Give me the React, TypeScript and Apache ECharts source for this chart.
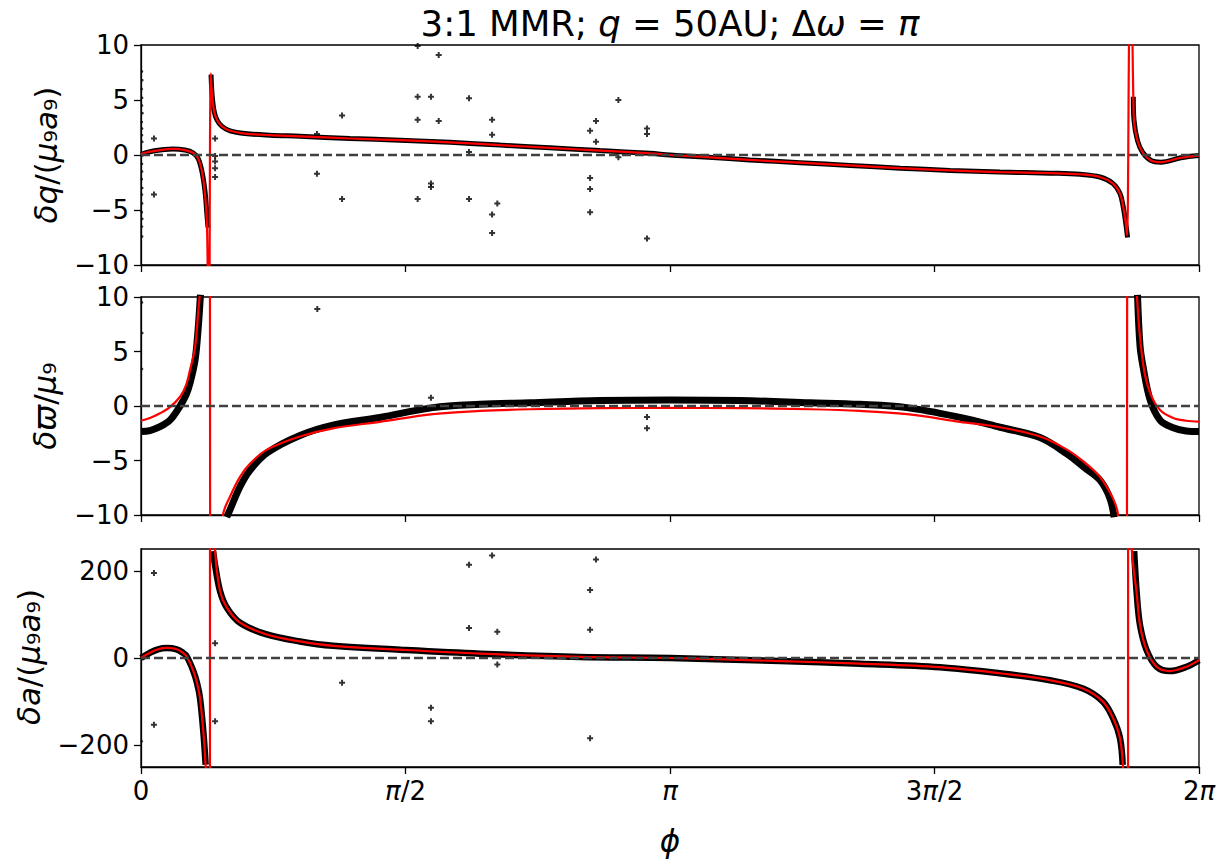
import React, { useEffect, useRef } from "react";
import * as echarts from "echarts";

const PI = Math.PI;
const FONT = "DejaVu Sans";

// x ticks (radians) and their labels
const X_TICKS = [0, PI / 2, PI, (3 * PI) / 2, 2 * PI];
const X_TICK_LABELS = ["0", "{i|π}/2", "{i|π}", "3{i|π}/2", "2{i|π}"];
const Y_TICKS_Q = [-10, -5, 0, 5, 10];
const Y_TICKS_A = [-200, 0, 200];

// ---------- panel 1 : δq/(μ9 a9) ----------
const P1_RED_PHI = [0.000, 0.053, 0.113, 0.190, 0.261, 0.309, 0.339, 0.362, 0.380, 0.392, 0.398, 0.403, 0.414, 0.422, 0.434, 0.451, 0.481, 0.529, 0.618, 0.766, 0.944, 1.241, 1.538, 1.835, 2.132, 2.429, 2.726, 3.023, 3.142, 3.320, 3.617, 3.914, 4.211, 4.508, 4.805, 5.101, 5.398, 5.577, 5.695, 5.773, 5.814, 5.833, 5.848, 5.856, 5.870, 5.879, 5.888, 5.894, 5.899, 5.918, 5.948, 5.998, 6.057, 6.176, 6.283];
const P1_RED = [0.1, 0.3, 0.45, 0.55, 0.45, 0.2, -0.3, -1.5, -3.5, -6.5, -14, -25, 7.4, 5.5, 4.0, 3.2, 2.6, 2.2, 1.95, 1.8, 1.7, 1.5, 1.35, 1.15, 0.9, 0.65, 0.4, 0.15, 0.0, -0.15, -0.45, -0.7, -0.95, -1.2, -1.4, -1.55, -1.65, -1.75, -2.0, -2.6, -3.5, -4.7, -6.2, -7.3, 14, 18, 10.5, 4.3, 2.8, 1.3, 0.25, -0.5, -0.65, -0.25, -0.05];
const P1_BLK_PHI = [0.000, 0.053, 0.113, 0.190, 0.261, 0.309, 0.339, 0.362, 0.380, 0.392, 0.398, 0.405, 0.416, 0.422, 0.434, 0.451, 0.481, 0.529, 0.618, 0.766, 0.944, 1.241, 1.538, 1.835, 2.132, 2.429, 2.726, 3.023, 3.142, 3.320, 3.617, 3.914, 4.211, 4.508, 4.805, 5.101, 5.398, 5.577, 5.695, 5.773, 5.814, 5.833, 5.848, 5.859, 5.875, 5.893, 5.897, 5.918, 5.948, 5.998, 6.057, 6.176, 6.283];
const P1_BLK = [0.05, 0.3, 0.45, 0.55, 0.45, 0.2, -0.3, -1.5, -3.3, -5.5, -6.6, null, 7.3, 5.5, 4.0, 3.2, 2.6, 2.2, 1.95, 1.8, 1.7, 1.5, 1.35, 1.15, 0.9, 0.65, 0.4, 0.15, 0.0, -0.15, -0.45, -0.7, -0.95, -1.2, -1.4, -1.55, -1.65, -1.75, -2.0, -2.6, -3.5, -4.7, -6.2, -7.5, null, 5.3, 3.2, 1.3, 0.25, -0.5, -0.65, -0.25, -0.05];
const P1_OUT_PHI = [0.077, 0.077, 0.440, 0.440, 0.440, 0.440, 0.440, 1.045, 1.045, 1.194, 1.194, 1.643, 1.643, 1.643, 1.643, 1.722, 1.722, 1.722, 1.768, 1.768, 1.948, 1.948, 1.948, 2.085, 2.085, 2.085, 2.085, 2.116, 2.667, 2.667, 2.667, 2.667, 2.702, 2.702, 2.835, 2.835, 3.005, 3.005, 3.005];
const P1_OUT = [1.5, -3.6, 1.5, -0.1, -0.6, -1.2, -2.0, 1.9, -1.7, 3.6, -4.0, 9.9, 5.3, 3.2, -4.0, 5.3, -2.6, -2.9, 9.1, 3.1, 5.15, 0.27, -4.0, 3.2, 1.85, -5.4, -7.1, -4.4, 2.2, -2.1, -3.1, -5.2, 3.1, 1.2, 5.0, -0.2, 2.4, 1.9, -7.6];
const P1_EDGE_PHI = [0.006, 0.008, 0.005, 0.007, 0.006, 0.009, 0.005, 0.007, 0.006, 0.008, 0.006, 0.007, 0.005, 0.008, 0.006, 0.007, 0.005, 0.008, 0.006, 0.007];
const P1_EDGE = [7.6, 6.8, 6.0, 5.2, 4.5, 3.8, 3.0, 2.4, 1.8, 1.2, -0.8, -1.5, -2.2, -3.0, -3.6, -4.4, -5.2, -5.8, -6.5, -7.4];

// ---------- panel 2 : δϖ/μ9 ----------
const P2_RED_PHI = [0.000, 0.053, 0.113, 0.172, 0.232, 0.267, 0.291, 0.321, 0.339, 0.350, 0.374, 0.407, 0.413, 0.445, 0.487, 0.529, 0.588, 0.647, 0.748, 0.944, 1.140, 1.419, 1.734, 2.013, 2.310, 2.726, 3.142, 3.557, 3.973, 4.270, 4.549, 4.864, 5.101, 5.339, 5.499, 5.606, 5.695, 5.773, 5.802, 5.832, 5.853, 5.859, 5.892, 5.915, 5.951, 5.993, 6.052, 6.130, 6.207, 6.283];
const P2_RED = [-1.35, -1.1, -0.67, -0.1, 0.85, 1.9, 3.3, 5.4, 8.5, 10.5, 20, 60, -60, -20, -10, -8.3, -6.5, -5.3, -4.0, -2.8, -2.05, -1.45, -0.75, -0.45, -0.3, -0.2, -0.18, -0.2, -0.3, -0.45, -0.75, -1.45, -1.95, -2.8, -4.0, -5.2, -6.5, -8.5, -10, -20, -60, 60, 20, 10, 3.9, 1.2, -0.37, -1.1, -1.35, -1.44];
const P2_BLK_PHI = [0.000, 0.053, 0.113, 0.172, 0.232, 0.267, 0.291, 0.321, 0.339, 0.353, 0.400, 0.509, 0.529, 0.588, 0.647, 0.748, 0.944, 1.140, 1.419, 1.734, 2.013, 2.310, 2.726, 3.142, 3.557, 3.973, 4.270, 4.549, 4.864, 5.101, 5.339, 5.499, 5.606, 5.695, 5.755, 5.779, 5.850, 5.918, 5.933, 5.951, 5.993, 6.052, 6.130, 6.207, 6.283];
const P2_BLK = [-2.35, -2.25, -1.9, -1.3, 0.0, 1.0, 2.1, 4.2, 7.0, 10.2, null, -10.2, -9.5, -7.4, -5.9, -4.3, -2.7, -1.75, -1.05, -0.15, 0.15, 0.3, 0.5, 0.55, 0.5, 0.3, 0.15, -0.15, -1.05, -1.95, -2.9, -4.4, -5.7, -6.8, -8.5, -10.2, null, 10.2, 5.5, 3.6, 0.55, -1.3, -2.0, -2.3, -2.35];
const P2_OUT_PHI = [1.047, 1.722, 3.005, 3.005];
const P2_OUT = [8.9, 0.76, -1.0, -2.05];
const P2_EDGE_PHI = [0.006, 0.008, 0.006];
const P2_EDGE = [9.5, 6.7, 3.4];

// ---------- panel 3 : δa/(μ9 a9) ----------
const P3_RED_PHI = [0.000, 0.053, 0.101, 0.153, 0.212, 0.249, 0.271, 0.311, 0.333, 0.350, 0.370, 0.384, 0.395, 0.407, 0.413, 0.428, 0.439, 0.469, 0.509, 0.588, 0.747, 0.944, 1.140, 1.538, 2.013, 2.607, 3.142, 3.795, 4.270, 4.745, 5.101, 5.398, 5.594, 5.713, 5.773, 5.814, 5.832, 5.847, 5.859, 5.865, 5.877, 5.884, 5.914, 5.933, 5.972, 6.032, 6.111, 6.210, 6.283];
const P3_RED = [0, 12, 20, 23, 20, 12, 4, -30, -58, -91, -168, -250, -400, -800, 800, 400, 250, 154, 116, 81, 54, 38, 28, 19, 10, 2.5, 0, -7, -13, -21, -35, -51, -70, -100, -138, -184, -250, -400, -800, 800, 400, 250, 145, 75, 18, -20, -30, -20, -5];
const P3_BLK_PHI = [0.000, 0.053, 0.101, 0.153, 0.212, 0.249, 0.271, 0.311, 0.333, 0.350, 0.370, 0.384, 0.400, 0.428, 0.439, 0.469, 0.509, 0.588, 0.747, 0.944, 1.140, 1.538, 2.013, 2.607, 3.142, 3.795, 4.270, 4.745, 5.101, 5.398, 5.594, 5.713, 5.773, 5.814, 5.830, 5.860, 5.898, 5.914, 5.933, 5.972, 6.032, 6.111, 6.210, 6.283];
const P3_BLK = [0, 12, 20, 23, 20, 12, 4, -30, -58, -91, -168, -245, null, 245, 215, 154, 116, 81, 54, 38, 28, 19, 10, 2.5, 0, -7, -13, -21, -35, -51, -70, -100, -138, -184, -245, null, 245, 145, 75, 18, -20, -30, -20, -5];
const P3_OUT_PHI = [0.077, 0.077, 0.440, 0.440, 1.194, 1.722, 1.722, 1.948, 1.948, 2.085, 2.116, 2.116, 2.667, 2.667, 2.667, 2.702];
const P3_OUT = [195, -153, 34, -145, -57, -114, -145, 214, 69, 235, 60, -15, 156, 65, -184, 226];
const P3_EDGE_PHI = [0.005];
const P3_EDGE = [-191];

const ZERO_PHI = [0, 2 * PI];
const ZERO_Y = [0, 0];

const PLUS = "path://M-1,-3H1V-1H3V1H1V3H-1V1H-3V-1H-1Z";

const pairs = (xs: number[], ys: (number | null)[]) =>
  xs.map((x, i) => [x, ys[i] === null ? "-" : ys[i]]);

const minus = (v: number) => String(v).replace("-", "\u2212");

const GRIDS = [
  { left: 141, width: 1058, top: 45, height: 220 },
  { left: 141, width: 1058, top: 297, height: 218 },
  { left: 141, width: 1058, top: 549, height: 218 },
];

function buildOption() {
  const grid = GRIDS.map((g) => ({
    ...g,
    show: true,
    borderColor: "#000",
    borderWidth: 1.3,
    backgroundColor: "transparent",
  }));

  const xAxis = [0, 1, 2].map((i) => ({
    type: "value",
    gridIndex: i,
    min: 0,
    max: 2 * PI,
    axisLine: { show: true, onZero: false, lineStyle: { color: "#000", width: 1.3 } },
    axisTick: {
      show: true,
      inside: false,
      length: 7,
      customValues: X_TICKS,
      lineStyle: { color: "#000", width: 1.3 },
    },
    axisLabel: {
      show: i === 2,
      customValues: X_TICKS,
      margin: 11,
      color: "#000",
      fontSize: 26,
      fontFamily: FONT,
      formatter: (v: number) => X_TICK_LABELS[Math.round(v / (PI / 2))],
      rich: { i: { fontStyle: "italic", fontSize: 26, fontFamily: FONT, color: "#000" } },
    },
    splitLine: { show: false },
  }));

  const yCommon = (i: number, min: number, max: number, ticks: number[]) => ({
    type: "value",
    gridIndex: i,
    min,
    max,
    axisLine: { show: true, onZero: false, lineStyle: { color: "#000", width: 1.3 } },
    axisTick: {
      show: true,
      inside: false,
      length: 7,
      customValues: ticks,
      lineStyle: { color: "#000", width: 1.3 },
    },
    axisLabel: {
      show: true,
      customValues: ticks,
      margin: 12,
      color: "#000",
      fontSize: 26,
      fontFamily: FONT,
      formatter: (v: number) => minus(v),
    },
    splitLine: { show: false },
  });

  const yAxis = [
    yCommon(0, -10, 10, Y_TICKS_Q),
    yCommon(1, -10, 10, Y_TICKS_Q),
    yCommon(2, -250, 250, Y_TICKS_A),
  ];

  const panels = [
    { blk: pairs(P1_BLK_PHI, P1_BLK), red: pairs(P1_RED_PHI, P1_RED), out: pairs(P1_OUT_PHI, P1_OUT), edge: pairs(P1_EDGE_PHI, P1_EDGE), bw: 5 },
    { blk: pairs(P2_BLK_PHI, P2_BLK), red: pairs(P2_RED_PHI, P2_RED), out: pairs(P2_OUT_PHI, P2_OUT), edge: pairs(P2_EDGE_PHI, P2_EDGE), bw: 7 },
    { blk: pairs(P3_BLK_PHI, P3_BLK), red: pairs(P3_RED_PHI, P3_RED), out: pairs(P3_OUT_PHI, P3_OUT), edge: pairs(P3_EDGE_PHI, P3_EDGE), bw: 6.5 },
  ];

  const series: any[] = [];
  panels.forEach((p, i) => {
    series.push({
      type: "line",
      xAxisIndex: i,
      yAxisIndex: i,
      data: p.blk,
      symbol: "none",
      connectNulls: false,
      smooth: 0.35,
      lineStyle: { color: "#000", width: p.bw },
      z: 2,
      silent: true,
    });
    series.push({
      type: "scatter",
      xAxisIndex: i,
      yAxisIndex: i,
      data: p.out,
      symbol: PLUS,
      symbolSize: 6,
      itemStyle: { color: "#000" },
      z: 2,
      silent: true,
    });
    series.push({
      type: "scatter",
      xAxisIndex: i,
      yAxisIndex: i,
      data: p.edge,
      symbol: "circle",
      symbolSize: 2.5,
      itemStyle: { color: "#000" },
      z: 2,
      silent: true,
    });
    series.push({
      type: "line",
      xAxisIndex: i,
      yAxisIndex: i,
      data: p.red,
      symbol: "none",
      smooth: 0.35,
      lineStyle: { color: "#ff0000", width: 2.2 },
      z: 3,
      silent: true,
    });
    series.push({
      type: "line",
      xAxisIndex: i,
      yAxisIndex: i,
      data: pairs(ZERO_PHI, ZERO_Y),
      symbol: "none",
      lineStyle: { color: "#404040", width: 2.6, type: [9, 4] },
      z: 4,
      silent: true,
    });
  });

  const rich = {
    i: { fontStyle: "italic", fontFamily: FONT, fontSize: 31, fill: "#000" },
    n: { fontFamily: FONT, fontSize: 31, fill: "#000" },
  };

  const graphic = [
    {
      type: "text",
      x: 670,
      y: 23,
      style: {
        text: "{n|3:1 MMR; }{i|q}{n| = 50AU; Δ}{i|ω}{n| = }{i|π}",
        rich: {
          i: { fontStyle: "italic", fontFamily: FONT, fontSize: 35.5, fill: "#000" },
          n: { fontFamily: FONT, fontSize: 35.5, fill: "#000" },
        },
        align: "center",
        verticalAlign: "middle",
      },
    },
    {
      type: "text",
      x: 46,
      y: 155,
      rotation: PI / 2,
      style: {
        text: "{i|δq}{n|/(}{i|μ}{n|₉}{i|a}{n|₉)}",
        rich,
        align: "center",
        verticalAlign: "middle",
      },
    },
    {
      type: "text",
      x: 45,
      y: 406,
      rotation: PI / 2,
      style: {
        text: "{i|δϖ}{n|/}{i|μ}{n|₉}",
        rich,
        align: "center",
        verticalAlign: "middle",
      },
    },
    {
      type: "text",
      x: 29,
      y: 657,
      rotation: PI / 2,
      style: {
        text: "{i|δa}{n|/(}{i|μ}{n|₉}{i|a}{n|₉)}",
        rich,
        align: "center",
        verticalAlign: "middle",
      },
    },
    {
      type: "text",
      x: 670,
      y: 841,
      style: {
        text: "ϕ",
        fontStyle: "italic",
        fontFamily: FONT,
        fontSize: 31,
        fill: "#000",
        align: "center",
        verticalAlign: "middle",
      },
    },
  ];

  return {
    animation: false,
    backgroundColor: "#fff",
    textStyle: { fontFamily: FONT },
    grid,
    xAxis,
    yAxis,
    series,
    graphic,
  };
}

export default function App() {
  const ref = useRef<HTMLDivElement>(null);
  useEffect(() => {
    if (!ref.current) return;
    const chart = echarts.init(ref.current, null, { renderer: "svg" });
    chart.setOption(buildOption() as any);
    return () => chart.dispose();
  }, []);
  return (
    <div
      ref={ref}
      style={{ position: "fixed", left: 0, top: 0, width: 1225, height: 862, background: "#fff" }}
    />
  );
}
